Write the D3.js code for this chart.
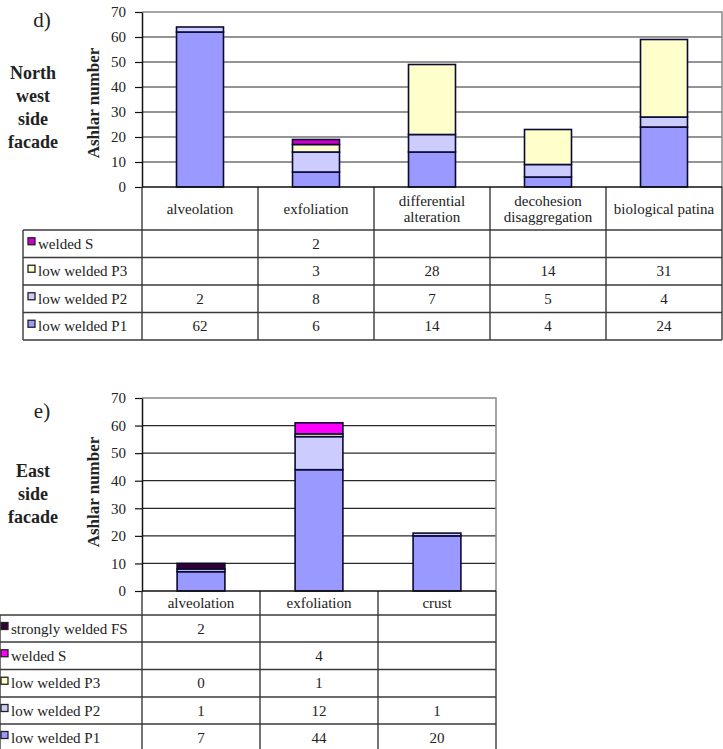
<!DOCTYPE html>
<html>
<head>
<meta charset="utf-8">
<script src="https://cdn.jsdelivr.net/npm/d3@7/dist/d3.min.js"></script>
<style>
  html, body { margin: 0; padding: 0; background: #fff; }
  svg text { font-family: "Liberation Serif", "Times New Roman", serif; fill: #222; }
</style>
</head>
<body>
<svg id="chart" width="723" height="749"></svg>
<script>
// ---------------- DATA ----------------
// Panel d) North west side facade
const catsD = ["alveolation", "exfoliation", "differential alteration", "decohesion disaggregation", "biological patina"];
const catLinesD = [["alveolation"], ["exfoliation"], ["differential", "alteration"], ["decohesion", "disaggregation"], ["biological patina"]];
const seriesD = ["welded S", "low welded P3", "low welded P2", "low welded P1"];
const dWeldedS = [null, 2, null, null, null];
const dP3 = [null, 3, 28, 14, 31];
const dP2 = [2, 8, 7, 5, 4];
const dP1 = [62, 6, 14, 4, 24];

// Panel e) East side facade
const catsE = ["alveolation", "exfoliation", "crust"];
const catLinesE = [["alveolation"], ["exfoliation"], ["crust"]];
const seriesE = ["strongly welded FS", "welded S", "low welded P3", "low welded P2", "low welded P1"];
const eStrongFS = [2, null, null];
const eWeldedS = [null, 4, null];
const eP3 = [0, 1, null];
const eP2 = [1, 12, 1];
const eP1 = [7, 44, 20];

const yTicks = [0, 10, 20, 30, 40, 50, 60, 70];

// ---------------- STYLE ----------------
const colors = {
  "strongly welded FS": "#330033",
  "welded S": "#CC00CC",
  "low welded P3": "#FFFFCC",
  "low welded P2": "#CCCCFF",
  "low welded P1": "#9999FF"
};
const colorsE = Object.assign({}, colors, { "welded S": "#FF00FF" });

const svg = d3.select("#chart");

function drawPanel(cfg) {
  const g = svg.append("g");
  const x = d3.scaleBand().domain(cfg.cats).range([cfg.x0, cfg.x1]).paddingInner(0).paddingOuter(0);
  const y = d3.scaleLinear().domain([0, 70]).range([cfg.yBase, cfg.yTop]);

  // gridlines
  g.append("g").selectAll("line").data(yTicks.filter(t => t > 0 && t < 70)).join("line")
    .attr("x1", cfg.x0).attr("x2", cfg.x1)
    .attr("y1", d => y(d)).attr("y2", d => y(d))
    .attr("stroke", "#2a2a2a").attr("stroke-width", 1.2);
  // plot border (top / right)
  g.append("path")
    .attr("d", `M${cfg.x0},${y(70)}H${cfg.x1}V${y(0)}`)
    .attr("fill", "none").attr("stroke", "#888").attr("stroke-width", 1.5);

  // stacked bars
  const keys = cfg.series.slice().reverse(); // bottom to top
  const rows = cfg.cats.map((c, i) => {
    const o = { cat: c };
    keys.forEach(k => { o[k] = cfg.values[k][i] || 0; });
    return o;
  });
  const stack = d3.stack().keys(keys)(rows);
  const bw = x.bandwidth() * 0.405;
  g.append("g").selectAll("g").data(stack).join("g")
    .attr("fill", d => cfg.colors[d.key])
    .selectAll("rect").data(d => d.filter(s => s[1] - s[0] > 0)).join("rect")
    .attr("x", d => x(d.data.cat) + (x.bandwidth() - bw) / 2)
    .attr("width", bw)
    .attr("y", d => y(d[1]))
    .attr("height", d => y(d[0]) - y(d[1]))
    .attr("stroke", "#0a0a33").attr("stroke-width", 1.6);

  // y axis
  const ax = g.append("g").attr("transform", `translate(${cfg.x0},0)`)
    .call(d3.axisLeft(y).tickValues(yTicks).tickSizeInner(7).tickSizeOuter(0).tickPadding(9));
  ax.attr("font-family", null);
  ax.select(".domain").attr("stroke", "#111").attr("stroke-width", 1.5);
  ax.selectAll(".tick line").attr("stroke", "#111").attr("stroke-width", 1.2);
  ax.selectAll(".tick text").attr("font-size", 15).attr("fill", "#222");

  // table
  const lineC = "#3a3a3a";
  const tb = g.append("g");
  const rowY = cfg.rowY; // boundaries for legend rows
  const lastY = rowY[rowY.length - 1];
  const bounds = cfg.cats.map(c => x(c)).concat([cfg.x1]);
  tb.selectAll("line.v").data(bounds).join("line")
    .attr("x1", d => d).attr("x2", d => d)
    .attr("y1", cfg.yBase).attr("y2", lastY)
    .attr("stroke", lineC).attr("stroke-width", 1.4);
  tb.append("line").attr("x1", cfg.x0).attr("x2", cfg.x1).attr("y1", cfg.yBase).attr("y2", cfg.yBase)
    .attr("stroke", "#111").attr("stroke-width", 1.5);
  tb.append("line").attr("x1", cfg.legX).attr("x2", cfg.legX).attr("y1", rowY[0]).attr("y2", lastY)
    .attr("stroke", lineC).attr("stroke-width", 1.4);
  tb.selectAll("line.h").data(rowY).join("line")
    .attr("x1", cfg.legX).attr("x2", cfg.x1)
    .attr("y1", d => d).attr("y2", d => d)
    .attr("stroke", lineC).attr("stroke-width", 1.4);

  // category labels
  const hdrMid = (cfg.yBase + rowY[0]) / 2;
  cfg.cats.forEach((c, i) => {
    const lines = cfg.catLines[i];
    const lh = 16;
    const t = tb.append("text").attr("text-anchor", "middle").attr("font-size", 15)
      .attr("x", x(c) + x.bandwidth() / 2);
    lines.forEach((ln, j) => {
      t.append("tspan").attr("x", x(c) + x.bandwidth() / 2)
        .attr("y", hdrMid + 5 + (j - (lines.length - 1) / 2) * lh)
        .text(ln);
    });
  });

  // legend rows + values
  cfg.series.forEach((s, r) => {
    const yc = (rowY[r] + rowY[r + 1]) / 2;
    tb.append("rect").attr("x", cfg.legX + cfg.swOff).attr("y", yc - 6).attr("width", 7).attr("height", 7)
      .attr("fill", cfg.colors[s]).attr("stroke", "#222").attr("stroke-width", 1.3);
    tb.append("text").attr("x", cfg.legX + cfg.swOff + 10).attr("y", yc + 5).attr("font-size", 15).text(s);
    cfg.values[s].forEach((v, i) => {
      if (v === null || v === undefined) return;
      tb.append("text").attr("text-anchor", "middle").attr("font-size", 15)
        .attr("x", x(cfg.cats[i]) + x.bandwidth() / 2).attr("y", yc + 5).text(v);
    });
  });

  // side labels
  g.append("text").attr("x", 42).attr("y", cfg.letterY).attr("text-anchor", "middle")
    .attr("font-size", 21).text(cfg.letter);
  const tl = g.append("text").attr("text-anchor", "middle").attr("font-size", 18).attr("font-weight", "bold");
  cfg.facade.forEach((ln, j) => {
    tl.append("tspan").attr("x", 33).attr("y", cfg.facadeY + j * 23).text(ln);
  });
  g.append("text").attr("transform", `translate(99,${cfg.axisTitleY}) rotate(-90)`)
    .attr("text-anchor", "middle").attr("font-size", 17).attr("font-weight", "bold").text("Ashlar number");
}

drawPanel({
  cats: catsD, catLines: catLinesD, series: seriesD,
  values: { "welded S": dWeldedS, "low welded P3": dP3, "low welded P2": dP2, "low welded P1": dP1 },
  colors: colors,
  x0: 142, x1: 722, yTop: 12, yBase: 187,
  rowY: [230, 257.5, 285, 312.5, 340],
  legX: 23, swOff: 5,
  letter: "d)", letterY: 27,
  facade: ["North", "west", "side", "facade"], facadeY: 79,
  axisTitleY: 103
});

drawPanel({
  cats: catsE, catLines: catLinesE, series: seriesE,
  values: { "strongly welded FS": eStrongFS, "welded S": eWeldedS, "low welded P3": eP3, "low welded P2": eP2, "low welded P1": eP1 },
  colors: colorsE,
  x0: 142, x1: 496, yTop: 398, yBase: 591,
  rowY: [615, 642, 669.5, 697, 724, 751],
  legX: 0, swOff: 1,
  letter: "e)", letterY: 418,
  facade: ["East", "side", "facade"], facadeY: 477,
  axisTitleY: 492
});
</script>
</body>
</html>
